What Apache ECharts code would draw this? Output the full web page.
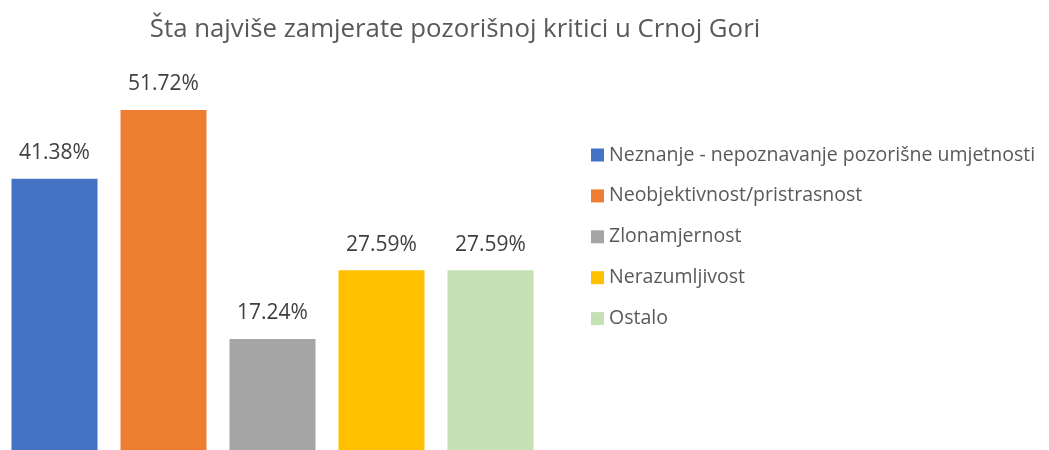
<!DOCTYPE html>
<html>
<head>
<meta charset="utf-8">
<script src="https://cdn.jsdelivr.net/npm/echarts@6/dist/echarts.min.js"></script>
<style>
  html, body { margin: 0; padding: 0; background: #fff; overflow: hidden; }
  /* a little taller than the window: the bars' base sits just below the visible edge */
  #chart { width: 1049px; height: 454px; }
</style>
</head>
<body>
<div id="chart"></div>
<script>
const title = 'Šta najviše zamjerate pozorišnoj kritici u Crnoj Gori';
const categories = [
  'Neznanje - nepoznavanje pozorišne umjetnosti',
  'Neobjektivnost/pristrasnost',
  'Zlonamjernost',
  'Nerazumljivost',
  'Ostalo'
];
const values = [41.38, 51.72, 17.24, 27.59, 27.59];
const colors = ['#4472C4', '#ED7D31', '#A5A5A5', '#FFC000', '#C5E0B4'];

const font = '"Open Sans", "Noto Sans", sans-serif';
const chart = echarts.init(document.getElementById('chart'));

// one series per category so each gets a legend entry; bars overlap at their own slot
const series = categories.map((name, i) => ({
  name: name,
  type: 'bar',
  barWidth: 86,
  barGap: '-100%',
  itemStyle: { color: colors[i] },
  label: {
    show: true,
    position: 'top',
    distance: 15,
    fontFamily: font,
    fontSize: 21,
    color: '#404040',
    formatter: p => p.value.toFixed(2) + '%'
  },
  data: values.map((v, j) => (j === i ? v : null))
}));

chart.setOption({
  animation: false,
  title: {
    text: title,
    left: 450,
    textAlign: 'center',
    top: 12,
    textStyle: { fontFamily: font, fontSize: 25.8, fontWeight: 'normal', color: '#595959' }
  },
  legend: {
    orient: 'vertical',
    left: 586,
    top: 140,
    itemWidth: 13,
    itemHeight: 13,
    itemGap: 20.9,
    icon: 'rect',
    textStyle: { fontFamily: font, fontSize: 19.5, color: '#595959' },
    data: categories
  },
  grid: { left: 0, top: 55, width: 545, bottom: 0.5 },
  xAxis: {
    type: 'category',
    data: categories,
    show: false
  },
  yAxis: {
    type: 'value',
    min: 0,
    max: 60,
    show: false
  },
  series: series
});
</script>
</body>
</html>
